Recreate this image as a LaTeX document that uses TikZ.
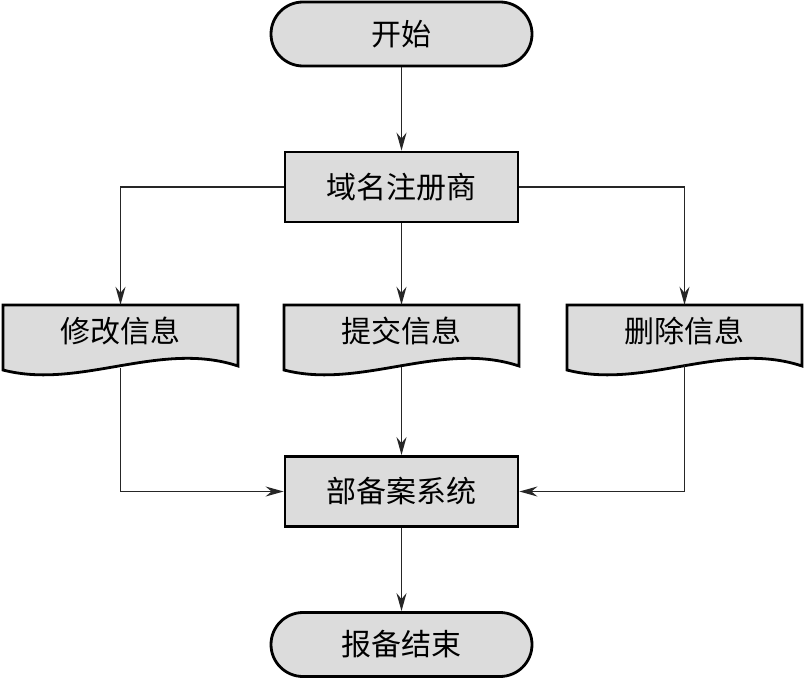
\documentclass[tikz,border=0pt]{standalone}
\usepackage{fontspec}
\newfontfamily\cjk{Noto Sans CJK SC}
\usetikzlibrary{arrows.meta,calc}
\definecolor{boxfill}{HTML}{DCDCDC}
\tikzset{
  shapeline/.style={draw=black,line width=2.8pt,fill=boxfill},
  term/.style={shapeline,rounded corners=32pt,minimum width=261pt,minimum height=64pt,inner sep=0pt},
  procbox/.style={shapeline,minimum width=233pt,minimum height=70pt,inner sep=0pt},
  doctext/.style={minimum width=235pt,minimum height=52pt,inner sep=0pt},
  conn/.style={draw=black!85,line width=1.6pt,-{Stealth[length=18pt,width=10pt,inset=6pt]}},
}
\newcommand\docshape[3]{% name, x, y(center)
  \path[shapeline] (#2-117.5,#3+26) -- (#2+117.5,#3+26) -- (#2+117.5,#3-35)
    .. controls (#2+39.5,#3-9) and (#2-40.5,#3-59) .. (#2-117.5,#3-39) -- cycle;
}
\begin{document}
\begin{tikzpicture}[x=1pt,y=1pt,font=\cjk\fontsize{30}{36}\selectfont]
\useasboundingbox (0,0) rectangle (805,-680);
% document shapes drawn first
\docshape{d1}{120.5}{-331}
\docshape{d2}{401.5}{-331}
\docshape{d3}{684.5}{-331}
\node[doctext] (d1) at (120.5,-331) {修改信息};
\node[doctext] (d2) at (401.5,-331) {提交信息};
\node[doctext] (d3) at (684.5,-331) {删除信息};
\coordinate (d1b) at (120.5,-368);
\coordinate (d2b) at (401.5,-367);
\coordinate (d3b) at (684.5,-365);

\node[term] (start) at (401.5,-34) {开始};
\node[procbox] (reg) at (401.5,-187) {域名注册商};
\node[procbox] (sys) at (401.5,-491.5) {部备案系统};
\node[term] (end) at (401.5,-644.5) {报备结束};

\draw[conn] (start) -- (reg);
\draw[conn] (reg) -- (d2);
\draw[conn] (reg.west) -| (d1.north);
\draw[conn] (reg.east) -| (d3.north);
\draw[conn] (d2b) -- (sys);
\draw[conn] (d1b) |- (sys.west);
\draw[conn] (d3b) |- (sys.east);
\draw[conn] (sys) -- (end);
\end{tikzpicture}
\end{document}
